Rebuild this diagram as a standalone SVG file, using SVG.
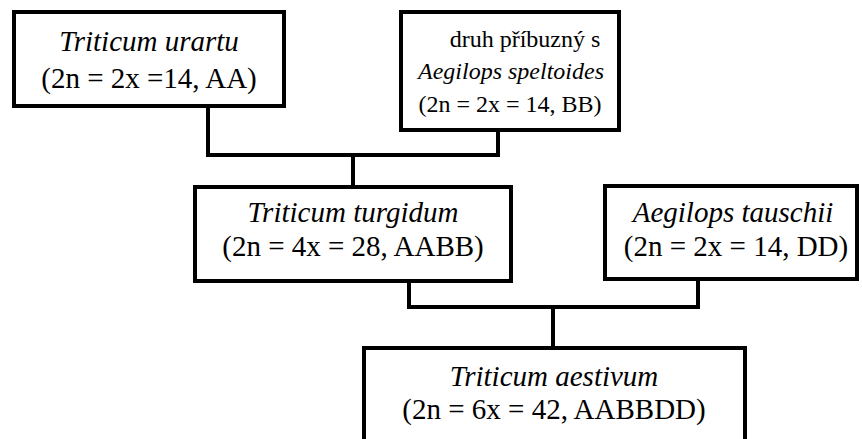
<svg xmlns="http://www.w3.org/2000/svg" width="862" height="439" viewBox="0 0 862 439">
  <style>
    .box { fill: #ffffff; stroke: #000000; stroke-width: 4; }
    .conn { fill: none; stroke: #000000; stroke-width: 4; stroke-linejoin: miter; stroke-linecap: square; }
    text { font-family: "Liberation Serif", "Times New Roman", serif; font-size: 29px; fill: #000000; text-anchor: middle; }
    .it { font-style: italic; }
    .sm { font-size: 24px; }
  </style>
  <rect x="0" y="0" width="862" height="439" fill="#ffffff"/>
  <g id="connectors">
    <polyline class="conn" points="208,108 208,155 498,155 498,132"/>
    <line class="conn" x1="353" y1="155" x2="353" y2="185"/>
    <polyline class="conn" points="409,282 409,307 698,307 698,280"/>
    <line class="conn" x1="553" y1="307" x2="553" y2="347"/>
  </g>
  <g id="urartu">
    <rect class="box" x="14" y="12" width="270" height="94"/>
    <text class="it" x="149" y="51">Triticum urartu</text>
    <text x="149" y="88">(2n = 2x =14, AA)</text>
  </g>
  <g id="speltoides">
    <rect class="box" x="401" y="12" width="218" height="118"/>
    <text class="sm" x="525" y="47">druh příbuzný s</text>
    <text class="it sm" x="511" y="79">Aegilops speltoides</text>
    <text class="sm" x="510" y="112">(2n = 2x = 14, BB)</text>
  </g>
  <g id="turgidum">
    <rect class="box" x="195" y="187" width="316" height="94"/>
    <text class="it" x="353" y="222">Triticum turgidum</text>
    <text x="353" y="256">(2n = 4x = 28, AABB)</text>
  </g>
  <g id="tauschii">
    <rect class="box" x="605" y="186" width="252" height="93"/>
    <text class="it" x="733" y="222">Aegilops tauschii</text>
    <text x="736" y="256">(2n = 2x = 14, DD)</text>
  </g>
  <g id="aestivum">
    <rect class="box" x="364" y="348" width="381" height="100"/>
    <text class="it" x="554" y="386">Triticum aestivum</text>
    <text x="554" y="419">(2n = 6x = 42, AABBDD)</text>
  </g>
</svg>
